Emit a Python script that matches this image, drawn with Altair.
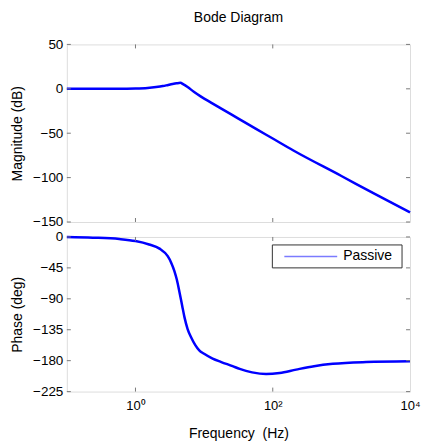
import altair as alt
import pandas as pd

# ---- data ----
mag_freq = [0.1, 0.2, 0.5, 1.0, 1.5, 2.0, 2.5, 3.0, 3.47, 3.98, 4.5, 5.0, 5.75, 7.08,
            8.9, 12.6, 17.8, 31.6, 56.2, 100, 200, 1000, 3162, 10000]
mag_db = [0.0, 0.0, 0.1, 0.4, 1.0, 2.0, 3.1, 4.4, 5.4, 6.2, 6.7, 5.0, 2.0, -3.3,
          -8.5, -15.5, -22.3, -33.5, -44.8, -56.0, -69.5, -98.2, -119.0, -139.2]

phase_freq = [0.1, 0.24, 0.58, 1.0, 1.58, 2.24, 2.95, 3.3, 3.7, 4.0, 4.37, 4.79, 5.18,
              5.75, 6.46, 7.4, 8.5, 10, 13.3, 17.8, 26, 33, 50, 80, 126, 219, 400,
              750, 2290, 10000]
phase_deg = [0.0, -1.0, -3.0, -6.0, -11.0, -17.0, -28.0, -37.0, -50.0, -62.0, -80.0,
             -100.0, -117.0, -134.0, -146.0, -157.0, -165.0, -170.0, -177.0, -182.0,
             -188.0, -192.0, -197.0, -199.5, -198.0, -193.0, -188.0, -184.5, -182.0, -181.0]

x_tick_values = [1, 100, 10000]
x_inner_ticks = [1, 100]
mag_ticks = [-150, -100, -50, 0, 50]
phase_ticks = [-225, -180, -135, -90, -45, 0]
legend_labels = ["Passive"]

FONT = "Liberation Sans"
W = 344
H_TOP = 178
H_BOT = 155
FRAME = "#7a7a7a"
LINE = "#0000ff"

mag_df = pd.DataFrame({"f": mag_freq, "v": mag_db})
ph_df = pd.DataFrame({"f": phase_freq, "v": phase_deg})
xt_df = pd.DataFrame({"f": x_inner_ticks})
myt_df = pd.DataFrame({"v": mag_ticks})
pyt_df = pd.DataFrame({"v": phase_ticks})
leg_df = pd.DataFrame({"label": legend_labels})

xscale = alt.Scale(type="log", domain=[0.1, 10000], nice=False)


def panel(df, yticks_df, ydomain, yvalues, ytitle, height, xaxis):
    yscale = alt.Scale(domain=ydomain, nice=False, zero=False)
    yaxis = alt.Axis(values=yvalues, ticks=False, tickSize=0, domain=False, grid=False,
                     labelPadding=4, labelFontSize=13.5, labelFont=FONT, labelColor="#000",
                     labelFlush=False, labelOverlap=False, title=ytitle, titleFont=FONT,
                     titleFontSize=14, titleFontWeight="normal", titleColor="#000",
                     titleX=-49, titleBaseline="middle", titleAngle=270)
    X = lambda: alt.X("f:Q", scale=xscale, axis=xaxis)
    Y = lambda: alt.Y("v:Q", scale=yscale, axis=yaxis)
    line = alt.Chart(df).mark_line(color=LINE, strokeWidth=2.5, interpolate="monotone").encode(
        x=X(), y=Y())
    xt_top = alt.Chart(xt_df).mark_rule(color=FRAME, strokeWidth=1).encode(
        x=X(), y=alt.value(0), y2=alt.value(4))
    xt_bot = alt.Chart(xt_df).mark_rule(color=FRAME, strokeWidth=1).encode(
        x=X(), y=alt.value(height - 4), y2=alt.value(height))
    yt_l = alt.Chart(yticks_df).mark_rule(color=FRAME, strokeWidth=1).encode(
        y=Y(), x=alt.value(0), x2=alt.value(4))
    yt_r = alt.Chart(yticks_df).mark_rule(color=FRAME, strokeWidth=1).encode(
        y=Y(), x=alt.value(W - 4), x2=alt.value(W))
    return [line, xt_top, xt_bot, yt_l, yt_r]


top_xaxis = alt.Axis(values=x_tick_values, labels=False, ticks=False, domain=False,
                     grid=False, title=None)
bot_xaxis = alt.Axis(values=x_tick_values, ticks=False, tickSize=0, domain=False, grid=False,
                     labelExpr="datum.value == 1 ? '10⁰' : datum.value == 100 ? '10²' : '10⁴'",
                     labelPadding=8, labelFontSize=13, labelFont=FONT, labelColor="#000",
                     labelFlush=False, labelOverlap=False, title="Frequency\u00a0 (Hz)",
                     titleFont=FONT, titleFontSize=14, titleFontWeight="normal",
                     titleColor="#000", titleBaseline="alphabetic", titleY=46.5)

top_layers = panel(mag_df, myt_df, [-150, 50], mag_ticks, "Magnitude (dB)", H_TOP, top_xaxis)
bot_layers = panel(ph_df, pyt_df, [-225, 0], phase_ticks, "Phase (deg)", H_BOT, bot_xaxis)

leg_box = alt.Chart(leg_df).mark_rect(fill="white", stroke="#333333", strokeWidth=1).encode(
    x=alt.value(206), x2=alt.value(336), y=alt.value(8), y2=alt.value(31))
leg_line = alt.Chart(leg_df).mark_rule(color="#7b7bff", strokeWidth=1.5).encode(
    x=alt.value(218), x2=alt.value(271), y=alt.value(19.5))
leg_text = alt.Chart(leg_df).mark_text(align="left", baseline="middle", font=FONT,
                                        fontSize=14, color="#000").encode(
    x=alt.value(277), y=alt.value(19.5), text="label:N")

top = alt.layer(*top_layers).properties(width=W, height=H_TOP)
bot = alt.layer(*bot_layers, leg_box, leg_line, leg_text).properties(width=W, height=H_BOT)

chart = alt.vconcat(top, bot, spacing=15, bounds="flush").properties(
    title=alt.TitleParams("Bode Diagram", font=FONT, fontSize=14, fontWeight="normal",
                          color="#000", anchor="middle", frame="group", offset=12),
    padding={"left": 10, "top": 10, "right": 0, "bottom": 0},
).configure_view(stroke=FRAME, strokeWidth=1).configure(background="white")

chart.save("out.html", embed_options={"renderer": "svg", "actions": False})
